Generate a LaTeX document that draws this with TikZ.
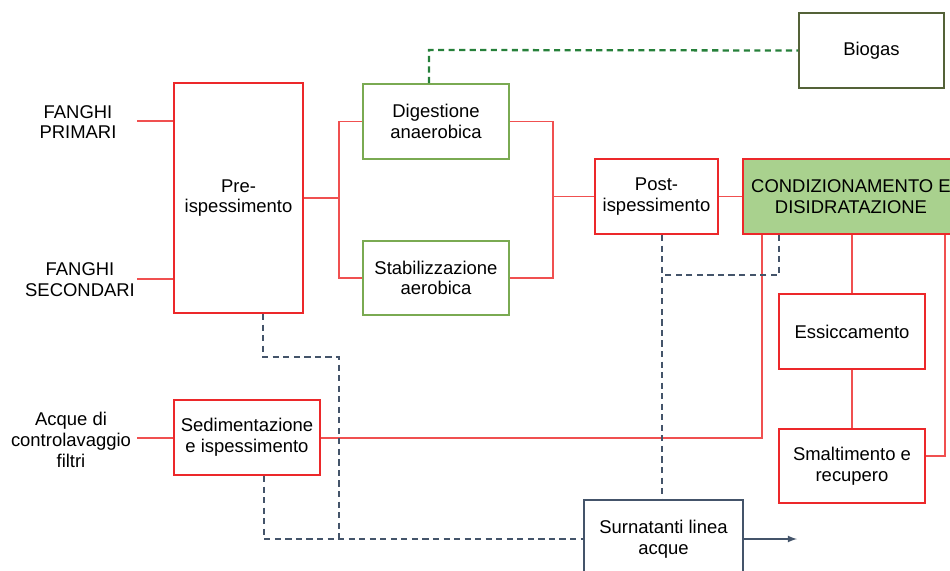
\documentclass[tikz,border=0pt]{standalone}
\usepackage{fontspec}
\setmainfont{Liberation Sans}
\usepackage{tikz}
\definecolor{boxred}{RGB}{236,40,42}
\definecolor{linered}{RGB}{240,80,80}
\definecolor{boxgreen}{RGB}{122,170,82}
\definecolor{condfill}{RGB}{169,209,142}
\definecolor{biogasgreen}{RGB}{84,98,56}
\definecolor{gasgreen}{RGB}{38,128,58}
\definecolor{slate}{RGB}{68,84,106}

\begin{document}
\begin{tikzpicture}[x=0.02cm, y=-0.02cm, >=latex,
    every node/.style={font=\fontsize{10.5}{11.8}\selectfont, align=center, inner sep=0pt},
    redbox/.style={draw=boxred, line width=1.2pt, fill=white},
    greenbox/.style={draw=boxgreen, line width=1pt, fill=white},
    flow/.style={draw=linered, line width=0.7pt},
    gas/.style={draw=gasgreen, line width=1.3pt, dash pattern=on 3.5pt off 2.5pt},
    waste/.style={draw=slate, line width=1.2pt, dash pattern=on 3.5pt off 2.5pt}]
    \useasboundingbox (0, 0) rectangle (950, 571);
    \clip (0, 0) rectangle (950, 571);
    % inputs
    \node  (0) at (78, 122) {FANGHI\\PRIMARI};
    \node  (1) at (80, 280) {FANGHI\\SECONDARI};
    \node  (2) at (71, 440) {Acque di\\controlavaggio\\filtri};
    % sludge line
    \node [redbox, minimum width=2.58cm, minimum height=4.6cm] (3) at (238.5, 198) {Pre-\\ispessimento};
    \node [greenbox, minimum width=2.92cm, minimum height=1.5cm] (4) at (436, 121.5) {Digestione\\anaerobica};
    \node [greenbox, minimum width=2.92cm, minimum height=1.48cm] (5) at (436, 278) {Stabilizzazione\\aerobica};
    \node [redbox, minimum width=2.46cm, minimum height=1.5cm] (6) at (656.5, 196.5) {Post-\\ispessimento};
    \node [redbox, fill=condfill, minimum width=4.32cm, minimum height=1.5cm] (7) at (851, 196.5) {CONDIZIONAMENTO E\\DISIDRATAZIONE};
    \node [redbox, minimum width=2.92cm, minimum height=1.5cm] (8) at (852, 331.5) {Essiccamento};
    \node [redbox, minimum width=2.92cm, minimum height=1.48cm] (9) at (852, 466) {Smaltimento e\\recupero};
    \node [draw=biogasgreen, line width=1.2pt, minimum width=2.9cm, minimum height=1.5cm] (10) at (871.5, 50.5) {Biogas};
    % backwash water
    \node [redbox, minimum width=2.92cm, minimum height=1.5cm] (11) at (247, 437.5) {Sedimentazione\\e ispessimento};
    % return to water line
    \node [draw=slate, line width=1.2pt, minimum width=3.18cm, minimum height=1.56cm] (12) at (663.5, 539) {Surnatanti linea\\acque};
    % junctions
    \coordinate (20) at (339, 198);
    \coordinate (21) at (553, 196.5);
    \coordinate (22) at (762, 438);
    \coordinate (23) at (945, 456);
    \coordinate (24) at (429, 50);
    \coordinate (25) at (263, 357);
    \coordinate (26) at (339, 539);
    \coordinate (27) at (264, 539);
    \coordinate (28) at (662, 275);
    \coordinate (29) at (779, 275);
    \coordinate (30) at (797, 539); % outlet
    \coordinate (31) at (137, 121);
    \coordinate (32) at (137, 279);
    \coordinate (33) at (137, 438);
    % red connectors
    \draw [flow] (31) -- (31 -| 3.west);
    \draw [flow] (32) -- (32 -| 3.west);
    \draw [flow] (3) -- (20);
    \draw [flow] (4.west) -| (20) |- (5.west);
    \draw [flow] (4.east) -| (21) |- (5.east);
    \draw [flow] (21) -- (6.west);
    \draw [flow] (6) -- (7);
    \draw [flow] (8.north |- 7.south) -- (8.north);
    \draw [flow] (8) -- (9);
    \draw [flow] (23 |- 7.south) -- (23) -- (23 -| 9.east);
    \draw [flow] (22 |- 7.south) -- (22) -- (22 -| 11.east);
    \draw [flow] (33) -- (33 -| 11.west);
    % biogas
    \draw [gas] (24 |- 4.north) -- (24) -- (10.west);
    % supernatants
    \draw [waste] (25 |- 3.south) -- (25) -| (26);
    \draw [waste] (27 |- 11.south) -- (27) -- (12.west);
    \draw [waste] (28 |- 6.south) -- (28 |- 12.north);
    \draw [waste] (29 |- 7.south) -- (29) -- (28);
    \draw [->, slate, line width=0.8pt] (12.east) -- (30);
    \end{tikzpicture}
\end{document}
